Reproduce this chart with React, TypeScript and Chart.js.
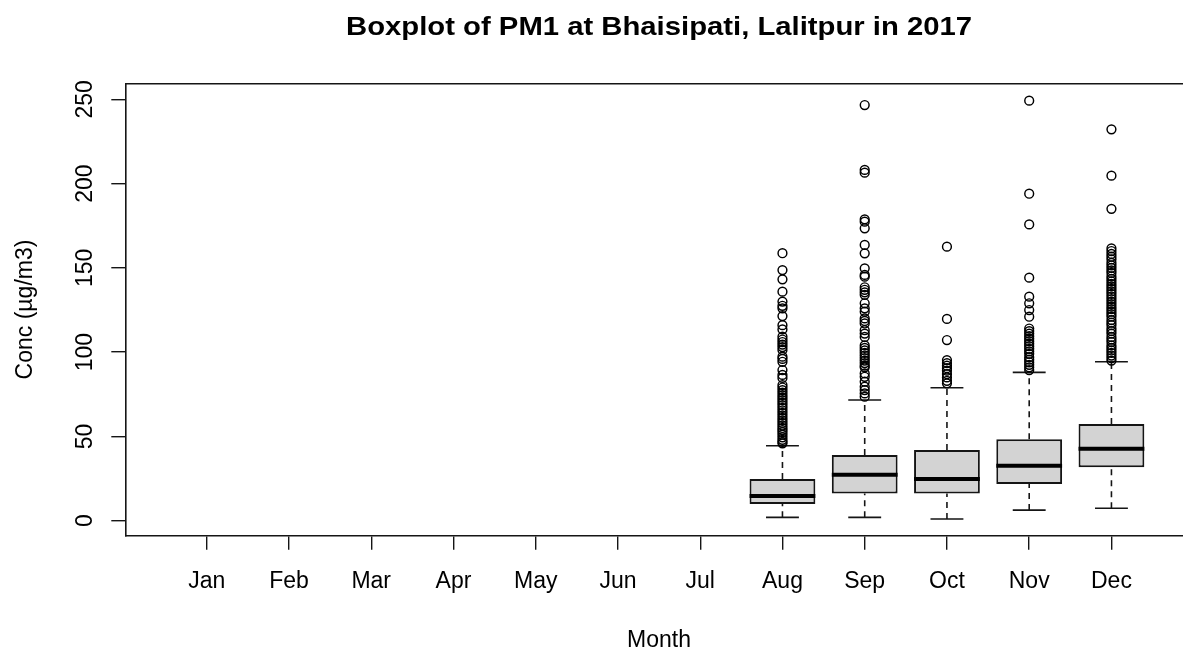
import React, { useEffect, useRef } from 'react';
import { Chart, registerables } from 'chart.js';

Chart.register(...registerables);

// ---------- data ----------
const TITLE = 'Boxplot of PM1 at Bhaisipati, Lalitpur in 2017';
const X_TITLE = 'Month';
const Y_TITLE = 'Conc (µg/m3)';
const MONTHS = ['Jan', 'Feb', 'Mar', 'Apr', 'May', 'Jun', 'Jul', 'Aug', 'Sep', 'Oct', 'Nov', 'Dec'];
const Y_TICKS = [0, 50, 100, 150, 200, 250];

const BOX_MONTHS = [8, 9, 10, 11, 12];
const LOWER_WHISKER = [2.0, 2.0, 1.0, 6.3, 7.4];
const Q1 = [9.9, 16.2, 16.2, 21.8, 31.7];
const MEDIAN = [14.7, 27.3, 24.7, 32.6, 42.7];
const Q3 = [24.7, 39.0, 41.9, 48.3, 57.4];
const UPPER_WHISKER = [44.5, 71.6, 78.9, 88.0, 94.3];

const OUTLIERS_AUG = [
  158.7, 148.7, 143.2, 135.9, 130.0, 127.5, 126.0, 121.4, 116.0, 113.5, 109.2, 107.5, 106.0,
  104.5, 103.0, 101.3, 97.3, 96.0, 94.3, 89.4, 86.5, 84.7, 80.5, 79.0, 77.5, 76.0, 74.5, 73.0,
  71.5, 70.0, 68.5, 67.0, 65.5, 64.0, 62.5, 61.0, 59.5, 58.0, 56.5, 55.0, 53.8, 52.5, 51.0,
  49.5, 48.0, 46.8, 45.9,
];
const OUTLIERS_SEP = [
  246.6, 208.1, 206.5, 178.8, 177.4, 173.5, 163.6, 158.6, 149.7, 145.8, 144.8, 138.5, 137.0,
  135.5, 134.0, 129.0, 126.0, 124.0, 120.0, 118.5, 117.0, 113.0, 111.0, 109.0, 104.0, 102.5,
  101.0, 99.5, 98.0, 96.5, 95.0, 93.5, 92.0, 91.0, 87.4, 85.4, 82.5, 79.5, 77.5, 75.5, 73.6,
];
const OUTLIERS_OCT = [162.6, 119.7, 107.2, 95.3, 93.5, 92.0, 90.5, 89.0, 87.0, 85.0, 83.0, 81.5];
const OUTLIERS_NOV = [
  249.2, 194.0, 175.8, 144.2, 132.9, 129.0, 125.0, 121.0, 114.0, 112.5, 111.0, 109.5, 108.0,
  106.5, 105.0, 103.5, 102.0, 100.5, 99.0, 97.0, 95.5, 94.0, 92.5, 91.0, 89.4,
];
const OUTLIERS_DEC = [
  232.2, 204.7, 185.0, 161.6, 160.0, 158.3, 156.6, 155.0, 153.0, 151.5, 150.0, 148.5, 147.0,
  145.0, 143.5, 142.0, 140.5, 139.0, 137.5, 136.0, 134.5, 133.0, 131.5, 130.0, 128.5, 127.0,
  125.5, 124.0, 122.5, 121.0, 119.0, 117.5, 116.0, 114.0, 112.5, 111.0, 109.0, 107.5, 106.0,
  104.0, 102.5, 101.0, 99.5, 98.0, 96.5, 95.0,
];
const OUTLIERS = [OUTLIERS_AUG, OUTLIERS_SEP, OUTLIERS_OCT, OUTLIERS_NOV, OUTLIERS_DEC];

// ---------- style / layout constants ----------
const FONT = "'Liberation Sans', Arial, Helvetica, sans-serif";
const BOX_WIDTH = 0.8;
const STAPLE_WIDTH = 0.4;
const X_MIN = 0.01;
const X_MAX = 12.87;
const X_CENTER = 6.5; // centre of the full plot region (R centres titles on it)
const Y_MIN = -8.9;
const Y_MAX = 259.5;
const INK = '#151515';

const textPlugin = {
  id: 'rText',
  afterDraw(chart: any) {
    const xs = chart.scales.x;
    const ys = chart.scales.y;
    const ctx = chart.ctx;
    const area = chart.chartArea;
    const cx = xs.getPixelForValue(X_CENTER);
    ctx.save();
    ctx.fillStyle = '#000';

    // y tick labels, rotated like R's las = 0
    ctx.font = `23px ${FONT}`;
    ctx.textAlign = 'center';
    ctx.textBaseline = 'alphabetic';
    const lx = area.left - 14 - 19.8;
    Y_TICKS.forEach((v) => {
      const py = ys.getPixelForValue(v);
      ctx.save();
      ctx.translate(lx, py);
      ctx.rotate(-Math.PI / 2);
      ctx.fillText(String(v), 0, 0);
      ctx.restore();
    });

    // x axis title
    ctx.font = `23px ${FONT}`;
    ctx.fillText(X_TITLE, cx, 646.5);

    // main title (bold, slightly wide like the reference)
    ctx.font = `bold 25px ${FONT}`;
    const w = ctx.measureText(TITLE).width;
    const sx = 626 / w;
    ctx.save();
    ctx.translate(cx, 34.5);
    ctx.scale(sx, 1);
    ctx.fillText(TITLE, 0, 0);
    ctx.restore();

    ctx.restore();
  },
};

export default function App() {
  const ref = useRef<HTMLCanvasElement>(null);

  useEffect(() => {
    const canvas = ref.current;
    if (!canvas) return;
    const half = BOX_WIDTH / 2;
    const sHalf = STAPLE_WIDTH / 2;

    const boxData = BOX_MONTHS.map((m, i) => ({ x: m, y: [Q1[i], Q3[i]] }));
    const medianData = BOX_MONTHS.flatMap((m, i) => [
      { x: m - half, y: MEDIAN[i] },
      { x: m + half, y: MEDIAN[i] },
      { x: m + half + 0.01, y: null },
    ]);
    const whiskerData = BOX_MONTHS.flatMap((m, i) => [
      { x: m, y: Q3[i] },
      { x: m, y: UPPER_WHISKER[i] },
      { x: m + 0.001, y: null },
      { x: m, y: LOWER_WHISKER[i] },
      { x: m, y: Q1[i] },
      { x: m + 0.002, y: null },
    ]);
    const stapleData = BOX_MONTHS.flatMap((m, i) => [
      { x: m - sHalf, y: UPPER_WHISKER[i] },
      { x: m + sHalf, y: UPPER_WHISKER[i] },
      { x: m + sHalf + 0.01, y: null },
      { x: m - sHalf, y: LOWER_WHISKER[i] },
      { x: m + sHalf, y: LOWER_WHISKER[i] },
      { x: m + sHalf + 0.02, y: null },
    ]);
    const outlierData = BOX_MONTHS.flatMap((m, i) => OUTLIERS[i].map((v) => ({ x: m, y: v })));

    const axisCommon = {
      type: 'linear' as const,
      grid: {
        display: true,
        drawOnChartArea: false,
        drawTicks: true,
        tickLength: 14,
        color: INK,
        lineWidth: 1.4,
        offset: false,
      },
      border: { display: true, color: INK, width: 1.6 },
    };

    const chart = new Chart(canvas, {
      type: 'scatter',
      data: {
        datasets: [
          {
            type: 'scatter',
            label: 'outliers',
            data: outlierData,
            pointStyle: 'circle',
            pointRadius: 4.4,
            pointBorderWidth: 1.45,
            pointBorderColor: '#000',
            pointBackgroundColor: 'rgba(0,0,0,0)',
            order: 0,
          } as any,
          {
            type: 'line',
            label: 'median',
            data: medianData,
            borderColor: '#000',
            borderWidth: 4,
            pointRadius: 0,
            spanGaps: false,
            borderCapStyle: 'butt',
            order: 1,
          } as any,
          {
            type: 'bar',
            label: 'box',
            data: boxData,
            backgroundColor: '#D3D3D3',
            borderColor: INK,
            borderWidth: 2,
            borderSkipped: false,
            barPercentage: BOX_WIDTH,
            categoryPercentage: 1,
            order: 2,
          } as any,
          {
            type: 'line',
            label: 'whisker',
            data: whiskerData,
            borderColor: INK,
            borderWidth: 1.6,
            borderDash: [6, 5],
            pointRadius: 0,
            spanGaps: false,
            order: 3,
          } as any,
          {
            type: 'line',
            label: 'staple',
            data: stapleData,
            borderColor: INK,
            borderWidth: 1.6,
            pointRadius: 0,
            spanGaps: false,
            order: 3,
          } as any,
        ],
      },
      options: {
        responsive: false,
        animation: false,
        maintainAspectRatio: false,
        layout: { autoPadding: false, padding: { top: 83.3, left: 0, right: 0, bottom: 0 } },
        plugins: {
          legend: { display: false },
          tooltip: { enabled: false },
          title: { display: false },
        },
        scales: {
          x: {
            ...axisCommon,
            position: 'bottom',
            min: X_MIN,
            max: X_MAX,
            offset: false,
            afterBuildTicks: (s: any) => {
              s.ticks = MONTHS.map((_, i) => ({ value: i + 1 }));
            },
            afterFit: (s: any) => {
              s.height = 115.3;
            },
            ticks: {
              autoSkip: false,
              maxRotation: 0,
              minRotation: 0,
              padding: 18,
              color: '#000',
              font: { family: FONT, size: 23 },
              callback: (v: any) => MONTHS[Math.round(Number(v)) - 1] ?? '',
            },
            title: { display: false },
          },
          x2: {
            type: 'linear',
            position: 'top',
            min: X_MIN,
            max: X_MAX,
            grid: { display: false, drawTicks: false },
            border: { display: true, color: INK, width: 1.6 },
            ticks: { display: false },
            afterFit: (s: any) => {
              s.height = 0;
            },
          },
          y: {
            ...axisCommon,
            position: 'left',
            min: Y_MIN,
            max: Y_MAX,
            afterBuildTicks: (s: any) => {
              s.ticks = Y_TICKS.map((v) => ({ value: v }));
            },
            afterFit: (s: any) => {
              s.width = 125.3;
            },
            ticks: { display: false },
            title: {
              display: true,
              text: Y_TITLE,
              color: '#000',
              font: { family: FONT, size: 23 },
              padding: { top: 12, bottom: 0 },
            },
          },
        },
      } as any,
      plugins: [textPlugin],
    });

    return () => chart.destroy();
  }, []);

  return (
    <div style={{ position: 'absolute', left: 0, top: 0, width: 1183, height: 651, background: '#fff' }}>
      <canvas ref={ref} width={1183} height={651} style={{ display: 'block' }} />
    </div>
  );
}
